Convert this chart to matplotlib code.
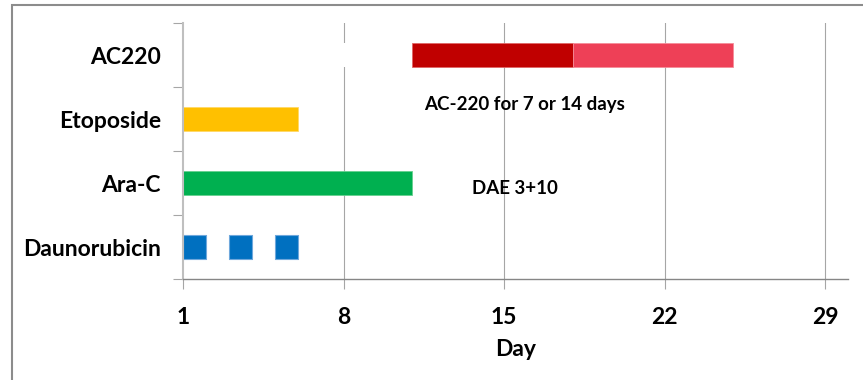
import matplotlib
matplotlib.use("Agg")
import matplotlib.pyplot as plt
from matplotlib.patches import Rectangle
from matplotlib.ticker import FixedLocator

plt.rcParams['font.family'] = ['Lato', 'DejaVu Sans']

# Treatment schedule (days)
drugs = ["Daunorubicin", "Ara-C", "Etoposide", "AC220"]
dauno_starts = [1, 3, 5]
dauno_len = 1
arac_start, arac_len = 1, 10
etop_start, etop_len = 1, 5
ac220_start = 11
ac220_short = 7
ac220_ext = 7
day_ticks = [1, 8, 15, 22, 29]
note_ac220 = "AC-220 for 7 or 14 days"
note_dae = "DAE 3+10"

W, H = 863, 380
fig = plt.figure(figsize=(W / 100, H / 100), dpi=100)
ax = fig.add_axes([183 / W, 1 - 279 / H, (848 - 183) / W, (279 - 23) / H])

bh = 0.39
y_dau, y_ara, y_eto, y_ac = range(len(drugs))

ax.broken_barh([(s, dauno_len) for s in dauno_starts], (y_dau - bh / 2, bh),
               facecolors="#0070C0", edgecolors="#6FA8DC", linewidth=0.8, zorder=3)
ax.barh(y_ara, arac_len, left=arac_start, height=bh, color="#00B050",
        edgecolor="#66D08F", linewidth=0.6, zorder=3)
ax.barh(y_eto, etop_len, left=etop_start, height=bh, color="#FFC000",
        edgecolor="#FFD966", linewidth=0.6, zorder=3)
# blank lead-in segment of the stacked AC220 bar
ax.barh(y_ac, ac220_start - 1, left=1, height=bh, color="white", zorder=3)
ax.barh(y_ac, ac220_short, left=ac220_start, height=bh, color="#C00000",
        edgecolor="#E06666", linewidth=0.6, zorder=3)
ax.barh(y_ac, ac220_ext, left=ac220_start + ac220_short, height=bh,
        color="#EE4057", edgecolor="#F58C99", linewidth=0.6, zorder=3)

ax.set_xlim(1, 30)
ax.set_ylim(-0.5, len(drugs) - 0.5)

for d in day_ticks[1:]:
    ax.axvline(d, color="#A6A6A6", lw=0.8, zorder=1)

ax.set_xticks(day_ticks)
ax.set_xticklabels([str(d) for d in day_ticks], fontsize=16.5, fontweight="bold")
ax.tick_params(axis="x", direction="out", length=7, width=0.8, color="#A6A6A6", pad=13)
ax.set_xlabel("Day", fontsize=16.5, fontweight="bold", labelpad=8)

ax.set_yticks(range(len(drugs)))
ax.set_yticklabels(drugs, fontsize=16.5, fontweight="bold")
ax.tick_params(axis="y", which="major", length=0, pad=16)
ax.yaxis.set_minor_locator(FixedLocator([i - 0.5 for i in range(len(drugs) + 1)]))
ax.tick_params(axis="y", which="minor", direction="out", length=7, width=0.8, color="#A6A6A6")

for s in ("top", "right"):
    ax.spines[s].set_visible(False)
ax.spines["left"].set_color("#BFBFBF")
ax.spines["left"].set_linewidth(1.5)
ax.spines["left"].set_zorder(5)
ax.spines["bottom"].set_color("#868686")
ax.spines["bottom"].set_linewidth(1.0)
ax.spines["bottom"].set_zorder(5)

ax.text(11.5, 2.23, note_ac220, fontsize=13.5, fontweight="bold", va="center", ha="left", zorder=4)
ax.text(13.6, 0.92, note_dae, fontsize=13.5, fontweight="bold", va="center", ha="left", zorder=4)

# chart frame
fig.patches.append(Rectangle((12 / W, -0.1), 1.2, 1 - 5 / H + 0.1, transform=fig.transFigure,
                             fill=False, edgecolor="#8C8C8C", linewidth=1.5))

fig.savefig("out.png", dpi=100)
